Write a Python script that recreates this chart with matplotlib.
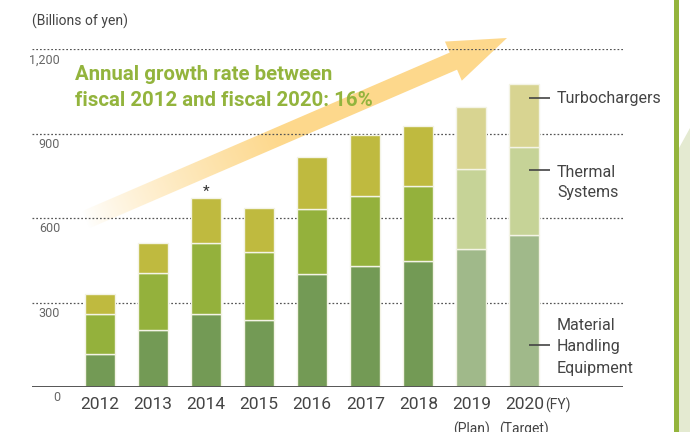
import matplotlib
matplotlib.use('Agg')
import matplotlib.pyplot as plt
import numpy as np
from matplotlib.patches import Polygon

# ---- data ----
years = ['2012', '2013', '2014', '2015', '2016', '2017', '2018', '2019', '2020']
sub_labels = ['', '', '', '', '', '', '', '(Plan)', '(Target)']
is_plan = [False, False, False, False, False, False, False, True, True]
mhe = [117, 202, 261, 239, 403, 432, 449, 491, 542]
thermal = [142, 203, 251, 240, 230, 247, 267, 283, 312]
turbo = [72, 108, 160, 156, 183, 217, 212, 221, 224]
ytick_vals = [0, 300, 600, 900, 1200]
ytick_labels = ['0', '300', '600', '900', '1,200']

# colours (actual / plan)
c_mhe = ('#739a55', '#a0b98a')
c_th = ('#94b13c', '#c6d397')
c_tu = ('#bfba3f', '#d8d491')

FONT = 'Roboto'
plt.rcParams['font.family'] = [FONT, 'DejaVu Sans']

W, H = 690, 432
fig = plt.figure(figsize=(W / 100, H / 100), dpi=100)
fig.patch.set_facecolor('white')

# background overlay (pixel coords, y down)
ov = fig.add_axes([0, 0, 1, 1], zorder=0)
ov.set_xlim(0, W)
ov.set_ylim(H, 0)
ov.axis('off')

# right-side decoration
ov.add_patch(Polygon([(679, 148), (690, 128), (690, 432), (679, 432)],
                     closed=True, facecolor='#e4ead1', edgecolor='none'))
ov.add_patch(Polygon([(674, 0), (679, 0), (679, 432), (674, 432)],
                     closed=True, facecolor='#94b43c', edgecolor='none'))

# gradient arrow
S = np.array([85.0, 220.0])
T = np.array([507.0, 38.0])
u = (T - S) / np.linalg.norm(T - S)
n = np.array([-u[1], u[0]])
hw, hh, hl = 9.3, 21.3, 58.4
Hb = T - hl * u
pts = [S - hw * n, Hb - hw * n, Hb - hh * n, T, Hb + hh * n, Hb + hw * n, S + hw * n]
poly = Polygon(pts, closed=True, facecolor='none', edgecolor='none',
               transform=ov.transData)
ov.add_patch(poly)
gx, gy = np.meshgrid(np.linspace(0, W, 345), np.linspace(0, H, 216))
proj = (gx - S[0]) * u[0] + (gy - S[1]) * u[1]
alpha = np.clip(proj / 210.0, 0, 1) ** 0.8
rgba = np.zeros(gx.shape + (4,))
rgba[..., 0] = 0xfd / 255
rgba[..., 1] = 0xd8 / 255
rgba[..., 2] = 0x8c / 255
rgba[..., 3] = alpha
im = ov.imshow(rgba, extent=(0, W, H, 0), origin='upper', aspect='auto',
               interpolation='bilinear')
im.set_clip_path(poly)
ov.set_xlim(0, W)
ov.set_ylim(H, 0)

# main chart axes
x0, x1 = 31.7, 623.0
yb, yt = 387.3, 49.3
ax = fig.add_axes([x0 / W, (H - yb) / H, (x1 - x0) / W, (yb - yt) / H], zorder=1)
ax.patch.set_alpha(0)
pitch = 53.06
cx0 = 100.0
ax.set_xlim((x0 - cx0) / pitch, (x1 - cx0) / pitch)
ax.set_ylim(0, 1200)
for s in ax.spines.values():
    s.set_visible(False)

x = np.arange(len(years))
bw = 0.565
col_m = [c_mhe[int(p)] for p in is_plan]
col_t = [c_th[int(p)] for p in is_plan]
col_u = [c_tu[int(p)] for p in is_plan]
bottom2 = np.array(mhe) + np.array(thermal)
ekw = dict(edgecolor='#f4f4e6', linewidth=1.0, zorder=2)
ax.bar(x, mhe, bw, color=col_m, **ekw)
ax.bar(x, thermal, bw, bottom=mhe, color=col_t, **ekw)
ax.bar(x, turbo, bw, bottom=bottom2, color=col_u, **ekw)

for v in ytick_vals[1:]:
    ax.axhline(v, color='#555555', lw=0.9, linestyle=(0, (1.4, 1.6)), zorder=0.5)
ax.axhline(0, color='#555555', lw=1.4, zorder=3)

ax.set_yticks([])
ax.set_xticks(x)
ax.set_xticklabels(years, fontsize=12.5, color='#444444')
ax.tick_params(axis='x', length=0, pad=7)

xf = (60 - x0) / (x1 - x0)
for v, lab in zip(ytick_vals, ytick_labels):
    ax.annotate(lab, xy=(xf, v), xycoords=('axes fraction', 'data'),
                xytext=(0, -4), textcoords='offset pixels',
                ha='right', va='top', fontsize=9, color='#666666')

for i, s in enumerate(sub_labels):
    if s:
        ax.annotate(s, xy=(i, 0), xycoords=('data', 'axes fraction'),
                    xytext=(0, -34), textcoords='offset pixels',
                    ha='center', va='top', fontsize=10, color='#444444')

totals = np.array(mhe) + np.array(thermal) + np.array(turbo)
ax.annotate('*', xy=(2, totals[2]), xytext=(0, -1), textcoords='offset pixels',
            ha='center', va='bottom', fontsize=11, color='#333333')

# top overlay for annotations
ov2 = fig.add_axes([0, 0, 1, 1], zorder=2)
ov2.set_xlim(0, W)
ov2.set_ylim(H, 0)
ov2.axis('off')
ov2.patch.set_alpha(0)

ov2.text(32, 26, '(Billions of yen)', fontsize=10, color='#444444', va='baseline')
ov2.text(545, 410, '(FY)', fontsize=10, color='#444444', va='baseline')

green = '#93b43d'
ov2.text(75, 80, 'Annual growth rate between', fontsize=14.7, fontweight='bold',
         color=green, va='baseline')
ov2.text(75, 106, 'fiscal 2012 and fiscal 2020: 16%', fontsize=14.7, fontweight='bold',
         color=green, va='baseline')

lc = '#444444'
for yy in (97.7, 170.0, 345.0):
    ov2.plot([529, 550], [yy, yy], color=lc, lw=1.2, solid_capstyle='butt')
lab_kw = dict(fontsize=11.5, color='#444444', va='baseline', ha='left')
ov2.text(557, 103, 'Turbochargers', **lab_kw)
ov2.text(557, 177, 'Thermal', **lab_kw)
ov2.text(557, 197.5, 'Systems', **lab_kw)
ov2.text(557, 330, 'Material', **lab_kw)
ov2.text(557, 351, 'Handling', **lab_kw)
ov2.text(557, 372.5, 'Equipment', **lab_kw)

fig.savefig('out.png', dpi=100, facecolor='white')
